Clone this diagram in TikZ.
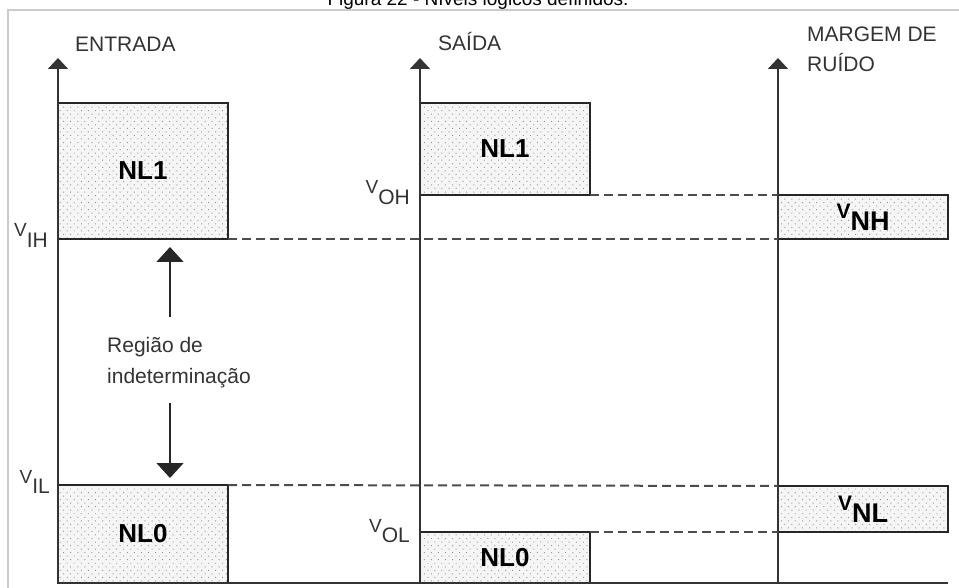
\documentclass[tikz,border=0pt]{standalone}
\usepackage{fontspec}
\setmainfont{Liberation Sans}
\usetikzlibrary{arrows.meta,patterns.meta}
\newcommand{\vsubl}[1]{{\fontsize{19}{19}\selectfont V}\raisebox{-10.5pt}{\fontsize{21}{21}\selectfont #1}}
\newcommand{\vsubb}[1]{{\fontsize{21}{21}\selectfont\bfseries V}\raisebox{-12pt}{\fontsize{27}{27}\selectfont\bfseries #1}}
\begin{document}
\begin{tikzpicture}[x=1pt,y=-1pt,
  lvbox/.style={draw=black!85, line width=1.8pt, preaction={fill=gray!8},
    pattern={Dots[distance=5pt,radius=0.7pt,angle=45]}, pattern color=gray!80,
    inner sep=0pt, outer sep=0pt, anchor=north west,
    font=\fontsize{26}{26}\selectfont\bfseries},
  axisln/.style={draw=black!80, line width=1.8pt, -{Triangle[width=20pt,length=11pt]}},
  baseln/.style={draw=black!80, line width=1.8pt},
  dashln/.style={draw=black!70, line width=2pt, dash pattern=on 9pt off 5pt},
  indarrow/.style={draw=black!85, line width=1.4pt, -{Triangle[width=27pt,length=15pt]}},
  lbl/.style={inner sep=0pt, font=\fontsize{21}{21}\selectfont, text=black!80},
  vlbl/.style={inner sep=0pt, anchor=base east, text=black!80}
]
\clip (0,0) rectangle (959,588);
% frame
\draw[gray!40, line width=1.5pt] (8,600) -- (8,10) -- (980,10);
% title (cut off at the top edge, as in the reference)
\node[inner sep=0pt, anchor=base, font=\fontsize{19}{19}\selectfont] (title) at (478,6) {Figura 22 - Níveis lógicos definidos.};

% boxes
\node[lvbox, minimum width=170pt, minimum height=136pt] (in1) at (58,103) {NL1};
\node[lvbox, minimum width=170pt, minimum height=98pt] (in0) at (58,485) {NL0};
\node[lvbox, minimum width=170pt, minimum height=92pt] (out1) at (420,103) {NL1};
\node[lvbox, minimum width=170pt, minimum height=51pt] (out0) at (420,532) {NL0};
\node[lvbox, minimum width=170pt, minimum height=44pt] (nh) at (778,195) {\vsubb{NH}};
\node[lvbox, minimum width=170pt, minimum height=46pt] (nl) at (778,486) {\vsubb{NL}};

% axes
\coordinate (a1b) at (58,583);  \coordinate (a1t) at (58,58);
\coordinate (a2b) at (420,583); \coordinate (a2t) at (420,58);
\coordinate (a3b) at (778,583); \coordinate (a3t) at (778,58);
\coordinate (br) at (948,583);
\draw[axisln] (a1b) -- (a1t);
\draw[axisln] (a2b) -- (a2t);
\draw[axisln] (a3b) -- (a3t);
\draw[baseln] (a1b) -- (br);

% dashed levels
\draw[dashln] (in1.south east) -- (nh.south west);
\draw[dashln] (out1.south east) -- (nh.north west);
\draw[dashln] (in0.north east) -- (nl.north west);
\draw[dashln] (out0.north east) -- (nl.south west);

% axis titles
\node[lbl, anchor=base west] (entrada) at (75,52) {ENTRADA};
\node[lbl, anchor=base west] (saida) at (438,51) {SAÍDA};
\node[lbl, anchor=base west] (margem) at (807,42) {MARGEM DE};
\node[lbl, anchor=base west] (ruido) at (807,72) {RUÍDO};

% voltage labels
\node[vlbl] (vih) at (48,237) {\vsubl{IH}};
\node[vlbl] (vil) at (50,483) {\vsubl{IL}};
\node[vlbl] (voh) at (410,194) {\vsubl{OH}};
\node[vlbl] (vol) at (410,532) {\vsubl{OL}};

% region of indetermination
\node[lbl, anchor=base west] (reg1) at (107,352) {Região de};
\node[lbl, anchor=base west] (reg2) at (107,383) {indeterminação};
\coordinate (upS) at (170,317); \coordinate (upT) at (170,247);
\coordinate (dnS) at (170,403); \coordinate (dnT) at (170,478);
\draw[indarrow] (upS) -- (upT);
\draw[indarrow] (dnS) -- (dnT);
\end{tikzpicture}
\end{document}
